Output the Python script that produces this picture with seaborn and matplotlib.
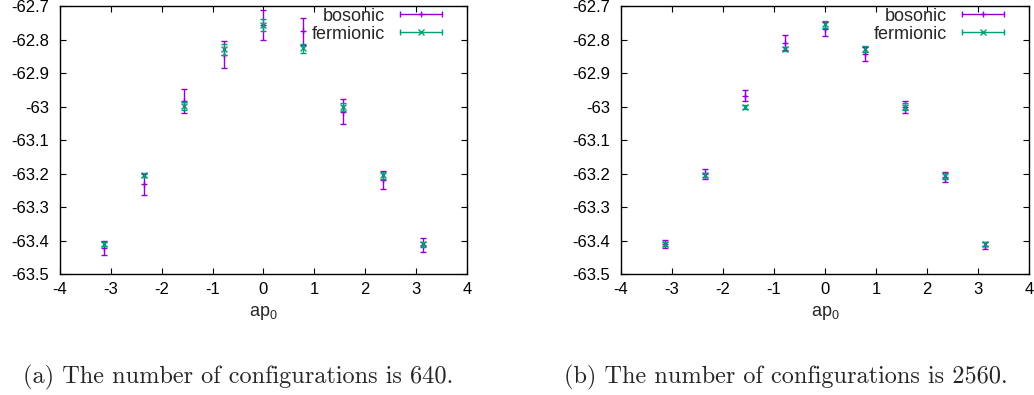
import pandas as pd
import seaborn as sns
import matplotlib.pyplot as plt
from matplotlib.lines import Line2D
from matplotlib.legend_handler import HandlerLine2D, HandlerTuple
from matplotlib.ticker import FuncFormatter, MultipleLocator

# x positions (multiples of pi/4)
ap0 = [-3.1416, -2.3562, -1.5708, -0.7854, 0.0, 0.7854, 1.5708, 2.3562, 3.1416]

# (a) 640 configurations
bos_640 = [-63.422, -63.232, -62.984, -62.845, -62.757, -62.775, -63.016, -63.220, -63.413]
bos_640_err = [0.022, 0.031, 0.036, 0.040, 0.045, 0.040, 0.037, 0.027, 0.021]
fer_640 = [-63.410, -63.204, -62.999, -62.829, -62.757, -62.826, -63.001, -63.205, -63.411]
fer_640_err = [0.007, 0.005, 0.012, 0.016, 0.017, 0.014, 0.012, 0.010, 0.007]

# (b) 2560 configurations
bos_2560 = [-63.411, -63.202, -62.968, -62.809, -62.768, -62.842, -63.002, -63.210, -63.415]
bos_2560_err = [0.012, 0.015, 0.017, 0.022, 0.021, 0.021, 0.018, 0.014, 0.011]
fer_2560 = [-63.410, -63.204, -63.001, -62.828, -62.755, -62.828, -63.001, -63.207, -63.411]
fer_2560_err = [0.006, 0.007, 0.006, 0.006, 0.010, 0.010, 0.010, 0.008, 0.006]

captions = ["(a) The number of configurations is 640.",
            "(b) The number of configurations is 2560."]

BOS_COLOR = "#9400d3"
FER_COLOR = "#009e73"

sns.set_style("ticks")
plt.rcParams["font.family"] = ["Liberation Sans", "DejaVu Sans"]
plt.rcParams["mathtext.fontset"] = "custom"
plt.rcParams["mathtext.rm"] = "Liberation Sans"
plt.rcParams["mathtext.it"] = "Liberation Sans"

fig = plt.figure(figsize=(10.34, 3.95), dpi=100)
ax_a = fig.add_axes([0.058, 0.3063, 0.3936, 0.6785])
ax_b = fig.add_axes([0.6006, 0.3063, 0.3946, 0.6785])


def gformat(v, pos):
    return f"{round(v, 4):g}"


def draw_panel(ax, bos, bos_err, fer, fer_err):
    df = pd.DataFrame({"ap0": ap0, "bos": bos, "bos_err": bos_err,
                       "fer": fer, "fer_err": fer_err})
    ax.errorbar(df["ap0"], df["bos"], yerr=df["bos_err"], fmt="none",
                ecolor=BOS_COLOR, elinewidth=1, capsize=2.5, capthick=1)
    sns.scatterplot(data=df, x="ap0", y="bos", marker="+", color=BOS_COLOR,
                    s=25, linewidth=1, ax=ax, legend=False)
    ax.errorbar(df["ap0"], df["fer"], yerr=df["fer_err"], fmt="none",
                ecolor=FER_COLOR, elinewidth=1, capsize=2.5, capthick=1)
    sns.scatterplot(data=df, x="ap0", y="fer", marker="x", color=FER_COLOR,
                    s=18, linewidth=1, ax=ax, legend=False)

    ax.set_xlim(-4, 4)
    ax.set_ylim(-63.5, -62.7)
    ax.xaxis.set_major_locator(MultipleLocator(1))
    ax.yaxis.set_major_locator(MultipleLocator(0.1))
    ax.xaxis.set_major_formatter(FuncFormatter(gformat))
    ax.yaxis.set_major_formatter(FuncFormatter(gformat))
    ax.tick_params(direction="in", length=4, width=0.8, top=True, right=True,
                   labelsize=12, colors="black")
    ax.tick_params(axis="x", pad=6)
    ax.tick_params(axis="y", pad=8)
    for sp in ax.spines.values():
        sp.set_visible(True)
        sp.set_linewidth(1.0)
        sp.set_color("black")
    ax.set_xlabel(r"ap$_\mathrm{0}$", fontsize=13, labelpad=5)
    ax.set_ylabel("")

    # gnuplot-like legend keys: horizontal bar with caps and a marker
    handles = []
    hmap = {}
    for col, mk in [(BOS_COLOR, "+"), (FER_COLOR, "x")]:
        bar = Line2D([], [], color=col, lw=1, marker="|", markersize=5)
        pt = Line2D([], [], color=col, lw=0, marker=mk, markersize=5)
        hmap[bar] = HandlerLine2D(numpoints=2)
        hmap[pt] = HandlerLine2D(numpoints=1)
        handles.append((bar, pt))
    hmap[tuple] = HandlerTuple(ndivide=1, pad=0)
    leg = ax.legend(handles, ["bosonic", "fermionic"], handler_map=hmap,
                    loc="upper right", bbox_to_anchor=(1 - 18 / 407, 1.0),
                    frameon=False, markerfirst=False, fontsize=13,
                    handlelength=2.9, handletextpad=0.55, labelspacing=0.05,
                    borderaxespad=0.0, borderpad=0.1)
    for column in leg._legend_box.get_children()[-1].get_children():
        column.align = "right"


draw_panel(ax_a, bos_640, bos_640_err, fer_640, fer_640_err)
draw_panel(ax_b, bos_2560, bos_2560_err, fer_2560, fer_2560_err)

fig.text(238 / 1034, 1 - 377 / 395, captions[0], ha="center", va="center",
         family="cmr10", fontsize=17.5)
fig.text(786 / 1034, 1 - 377 / 395, captions[1], ha="center", va="center",
         family="cmr10", fontsize=17.5)

fig.savefig("out.png", dpi=100)
